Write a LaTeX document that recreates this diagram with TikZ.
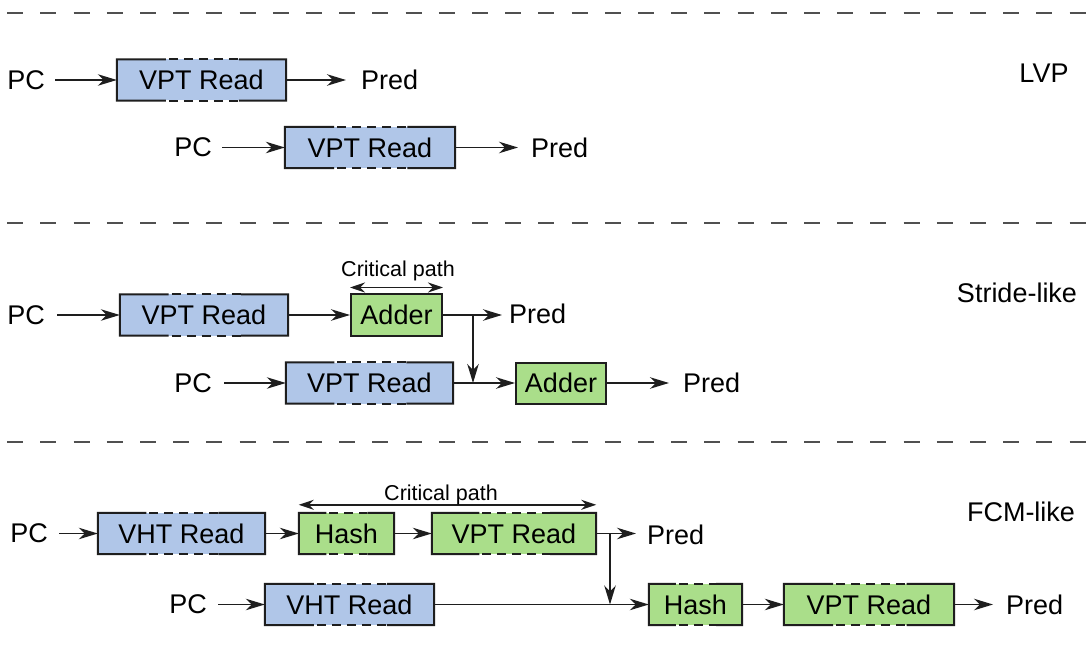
\documentclass[tikz,border=0pt]{standalone}
\usepackage{fontspec}
\setmainfont{Liberation Sans}
\usetikzlibrary{arrows.meta,calc}
\definecolor{boxblue}{RGB}{176,198,232}
\definecolor{boxgreen}{RGB}{170,222,138}
\definecolor{edgec}{RGB}{30,30,30}
\definecolor{sepgray}{RGB}{80,80,80}
\newcommand\stageedges[1]{%
  \draw[edgec,line width=2pt]
    ($(#1.north west)!0.29!(#1.north east)$) -- (#1.north west) -- (#1.south west) -- ($(#1.south west)!0.29!(#1.south east)$);
  \draw[edgec,line width=2pt]
    ($(#1.north west)!0.72!(#1.north east)$) -- (#1.north east) -- (#1.south east) -- ($(#1.south west)!0.72!(#1.south east)$);
  \draw[edgec,line width=2pt,dash pattern=on 9pt off 6pt,dash phase=12pt]
    ($(#1.north west)!0.29!(#1.north east)$) -- ($(#1.north west)!0.72!(#1.north east)$)
    ($(#1.south west)!0.29!(#1.south east)$) -- ($(#1.south west)!0.72!(#1.south east)$);
}
\tikzset{
  txt/.style={font=\fontsize{27}{31}\selectfont, inner sep=0pt},
  small/.style={font=\fontsize{21.5}{25}\selectfont, inner sep=0pt, anchor=base},
  stage/.style={txt, minimum height=41pt, anchor=center},
  bluebox/.style={stage, fill=boxblue},
  greenbox/.style={stage, fill=boxgreen},
  solidbox/.style={stage, fill=boxgreen, draw=edgec, line width=2pt},
  arr/.style={draw=edgec, line width=1.4pt, -{Stealth[length=19pt,width=11.5pt,inset=6pt]}},
  darr/.style={draw=edgec, line width=1.4pt, {Stealth[length=15pt,width=10pt,inset=5pt]}-{Stealth[length=15pt,width=10pt,inset=5pt]}},
  sep/.style={draw=sepgray, line width=1.5pt, dash pattern=on 16pt off 17.2pt, dash phase=26pt},
}
\begin{document}
\begin{tikzpicture}[x=1pt,y=-1pt]
\fill[white] (0,0) rectangle (1092,668);
\useasboundingbox (0,0) rectangle (1092,668);

% separators
\coordinate (sepA1) at (0,13);   \coordinate (sepA2) at (1092,13);
\coordinate (sepB1) at (0,223);  \coordinate (sepB2) at (1092,223);
\coordinate (sepC1) at (0,442);  \coordinate (sepC2) at (1092,442);
\draw[sep] (sepA1) -- (sepA2);
\draw[sep] (sepB1) -- (sepB2);
\draw[sep] (sepC1) -- (sepC2);

% section labels
\node[txt] (lvp) at (1044,73) {LVP};
\node[txt] (stride) at (1017,293) {Stride-like};
\node[txt] (fcm) at (1021,512) {FCM-like};

% ---------------- LVP ----------------
\node[txt, anchor=east] (lpc1) at (45,80) {PC};
\node[bluebox, minimum width=169pt] (l1) at (201.5,80) {VPT Read};
\node[txt, anchor=west] (lp1) at (361,80) {Pred};
\stageedges{l1}
\draw[arr, shorten <=10pt] (lpc1) -- (l1);
\draw[arr, shorten >=15pt] (l1) -- (lp1);

\node[txt, anchor=east] (lpc2) at (212,147.5) {PC};
\node[bluebox, minimum width=170pt] (l2) at (370,147.5) {VPT Read};
\node[txt, anchor=west] (lp2) at (531,147.5) {Pred};
\stageedges{l2}
\draw[arr, shorten <=10pt] (lpc2) -- (l2);
\draw[arr, shorten >=13pt] (l2) -- (lp2);

% ---------------- Stride ----------------
\node[txt, anchor=east] (spc1) at (45,315) {PC};
\node[bluebox, minimum width=168pt] (s1) at (204,315) {VPT Read};
\node[solidbox, minimum width=91pt] (a1) at (396.5,315) {Adder};
\node[txt, anchor=west] (sp1) at (509,314) {Pred};
\stageedges{s1}
\draw[arr, shorten <=12pt] (spc1) -- (s1);
\draw[arr] (s1) -- (a1);
\draw[arr, shorten >=7pt] (a1.east) -- (a1.east -| sp1.west);
\path (a1.north west) ++(0,-6) coordinate (cpl1);
\path (a1.north east) ++(0,-6) coordinate (cpr1);
\draw[darr] (cpl1) -- (cpr1);
\node[small] (crit1) at (398,276.5) {Critical path};

\node[txt, anchor=east] (spc2) at (212,383) {PC};
\node[bluebox, minimum width=167pt] (s2) at (369.5,383) {VPT Read};
\node[solidbox, minimum width=90pt] (a2) at (561,383) {Adder};
\node[txt, anchor=west] (sp2) at (683,383) {Pred};
\stageedges{s2}
\draw[arr, shorten <=12pt] (spc2) -- (s2);
\draw[arr] (s2) -- (a2);
\draw[arr, shorten >=14pt] (a2) -- (sp2);
\coordinate (br1) at (473,315);
\draw[arr] (br1) -- (br1 |- a2.west);

% ---------------- FCM ----------------
\node[txt, anchor=east] (fpc1) at (48,533.5) {PC};
\node[bluebox, minimum width=167pt] (f1) at (181.5,533.5) {VHT Read};
\node[greenbox, minimum width=95pt] (h1) at (346.5,533.5) {Hash};
\node[greenbox, minimum width=164pt] (p1) at (514,533.5) {VPT Read};
\node[txt, anchor=west] (fp1) at (647,535) {Pred};
\stageedges{f1}
\stageedges{h1}
\stageedges{p1}
\draw[arr, shorten <=11pt] (fpc1) -- (f1);
\draw[arr] (f1) -- (h1);
\draw[arr] (h1) -- (p1);
\draw[arr, shorten >=11pt] (p1.east) -- (p1.east -| fp1.west);
\path (h1.north west) ++(0,-8) coordinate (cpl2);
\path (p1.north east) ++(0,-8) coordinate (cpr2);
\draw[darr] (cpl2) -- (cpr2);
\node[small] (crit2) at (441,500) {Critical path};

\node[txt, anchor=east] (fpc2) at (207,604.5) {PC};
\node[bluebox, minimum width=169pt] (f2) at (349.5,604.5) {VHT Read};
\node[greenbox, minimum width=93pt] (h2) at (695.5,604.5) {Hash};
\node[greenbox, minimum width=170pt] (p2) at (869,604.5) {VPT Read};
\node[txt, anchor=west] (fp2) at (1006,604.5) {Pred};
\stageedges{f2}
\stageedges{h2}
\stageedges{p2}
\draw[arr, shorten <=11pt] (fpc2) -- (f2);
\draw[arr] (f2) -- (h2);
\draw[arr] (h2) -- (p2);
\draw[arr, shorten >=13pt] (p2) -- (fp2);
\coordinate (br2) at (610,533.5);
\draw[arr] (br2) -- (br2 |- h2.west);
\end{tikzpicture}
\end{document}
